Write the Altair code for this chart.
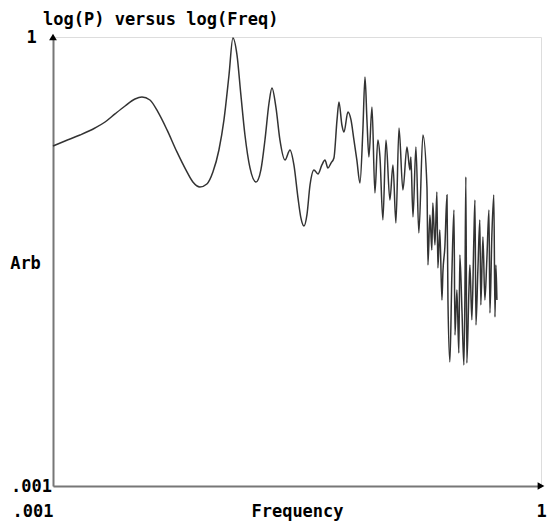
import altair as alt
import pandas as pd

# log10(frequency) and log10(power)
log_freq = [
    -3.000, -2.926, -2.834, -2.742, -2.680, -2.619, -2.557, -2.496, -2.453, -2.404,
    -2.355, -2.299, -2.238, -2.183, -2.140, -2.097, -2.054, -2.017, -1.980, -1.949,
    -1.918, -1.894, -1.869, -1.845, -1.820, -1.789, -1.752, -1.722, -1.697, -1.672,
    -1.654, -1.629, -1.605, -1.574, -1.543, -1.519, -1.494, -1.476, -1.457, -1.439,
    -1.420, -1.396, -1.371, -1.347, -1.328, -1.310, -1.291, -1.273, -1.254, -1.242,
    -1.224, -1.211, -1.187, -1.168, -1.150, -1.132, -1.113, -1.095, -1.082, -1.070,
    -1.058, -1.039, -1.021, -1.003, -0.990, -0.972, -0.953, -0.929, -0.910, -0.892,
    -0.873, -0.849, -0.824, -0.806, -0.800, -0.787, -0.769, -0.751, -0.726,
    -0.701, -0.695, -0.683, -0.671, -0.665, -0.652, -0.640, -0.634, -0.622, -0.609,
    -0.603, -0.591, -0.578, -0.572, -0.560, -0.548, -0.535, -0.529, -0.517, -0.505,
    -0.499, -0.486, -0.474, -0.468, -0.462, -0.456, -0.443, -0.437, -0.425, -0.413,
    -0.406, -0.400, -0.388, -0.376, -0.370, -0.357, -0.345, -0.333, -0.320, -0.314,
    -0.302, -0.290, -0.283, -0.277, -0.271,
]
log_power = [
    -0.728, -0.695, -0.655, -0.608, -0.568, -0.514, -0.461, -0.414, -0.401, -0.421,
    -0.501, -0.621, -0.768, -0.888, -0.969, -1.002, -0.982, -0.902, -0.755, -0.554,
    -0.254, -0.007, -0.120, -0.387, -0.655, -0.875, -0.969, -0.888, -0.688, -0.441,
    -0.341, -0.474, -0.688, -0.822, -0.755, -0.855, -1.075, -1.209, -1.263, -1.189,
    -0.989, -0.888, -0.915, -0.855, -0.822, -0.875, -0.842, -0.808, -0.554, -0.434,
    -0.588, -0.635, -0.501, -0.554, -0.688, -0.822, -0.975, -0.621, -0.267, -0.554,
    -0.802, -0.468, -1.042, -0.688, -0.802, -1.222, -0.688, -1.089, -0.855, -1.242,
    -0.608, -1.022, -0.735, -0.888, -0.802, -1.202, -0.735, -1.309, -0.655,
    -1.002, -1.523, -1.189, -1.423, -1.109, -1.389, -1.035, -1.543, -1.289, -1.757,
    -1.570, -1.403, -1.055, -1.757, -2.171, -1.590, -1.156, -1.991, -1.690, -2.111,
    -1.456, -1.824, -2.191, -1.757, -0.935, -2.178, -1.690, -1.523, -1.890, -1.356,
    -1.089, -1.924, -1.556, -1.222, -1.790, -1.336, -1.757, -1.490, -1.156, -1.844,
    -1.323, -1.055, -1.870, -1.523, -1.757,
]

axis_ticks = [-3, 0]
tick_labels = [".001", "1"]

df = pd.DataFrame({"lf": log_freq, "lp": log_power, "order": list(range(len(log_freq)))})

FONT = "DejaVu Sans Mono"
FS = 17
label_expr = f"datum.value == 0 ? '{tick_labels[1]}' : '{tick_labels[0]}'"

xscale = alt.Scale(domain=[-3, 0], nice=False, zero=False)
yscale = alt.Scale(domain=[-3, 0], nice=False, zero=False)

x_axis = alt.Axis(
    values=axis_ticks, labelExpr=label_expr, ticks=False, tickSize=0, grid=False,
    domainColor="#777777", domainWidth=2, labelFlush=False,
    labelAlign=alt.expr("datum.value < -1 ? 'right' : 'center'"),
    labelBaseline="middle", labelPadding=25, labelFont=FONT, labelFontSize=FS,
    labelFontWeight="bold", labelColor="black",
    title="Frequency", titleFont=FONT, titleFontSize=FS, titleFontWeight="bold",
    titleColor="black", titleY=25, titleBaseline="middle", titleAlign="center",
)
y_axis = alt.Axis(
    values=axis_ticks, labelExpr=label_expr, ticks=False, tickSize=0, grid=False,
    domainColor="#777777", domainWidth=2, labelFlush=False,
    labelAlign="center", labelBaseline="middle", labelPadding=22,
    labelFont=FONT, labelFontSize=FS, labelFontWeight="bold", labelColor="black",
    title="Arb", titleAngle=0, titleX=-28, titleY=226, titleAlign="center",
    titleBaseline="middle", titleFont=FONT, titleFontSize=FS, titleFontWeight="bold",
    titleColor="black",
)

line = alt.Chart(df).mark_line(color="#333333", strokeWidth=1.5, interpolate="monotone").encode(
    x=alt.X("lf:Q", scale=xscale, axis=x_axis),
    y=alt.Y("lp:Q", scale=yscale, axis=y_axis),
    order="order:Q",
)

up_arrow = alt.Chart(pd.DataFrame({"lf": [-3], "lp": [0]})).mark_point(
    shape="triangle-up", filled=True, color="black", size=60, opacity=1
).encode(x=alt.X("lf:Q", scale=xscale), y=alt.Y("lp:Q", scale=yscale))

right_arrow = alt.Chart(pd.DataFrame({"lf": [0], "lp": [-3]})).mark_point(
    shape="triangle-right", filled=True, color="black", size=60, opacity=1
).encode(x=alt.X("lf:Q", scale=xscale), y=alt.Y("lp:Q", scale=yscale))

chart = alt.layer(line, up_arrow, right_arrow).properties(
    width=488,
    height=449,
    title=alt.TitleParams(
        "log(P) versus log(Freq)", anchor="start", frame="group", dx=-10, offset=0, dy=1,
        font=FONT, fontSize=FS, fontWeight="bold", color="black",
    ),
    autosize=alt.AutoSizeParams(type="none"),
    padding={"left": 53, "top": 37, "right": 6, "bottom": 39},
).configure_view(stroke=None).configure(background="white")

chart.save("out.html", embed_options={"renderer": "svg", "actions": False})
